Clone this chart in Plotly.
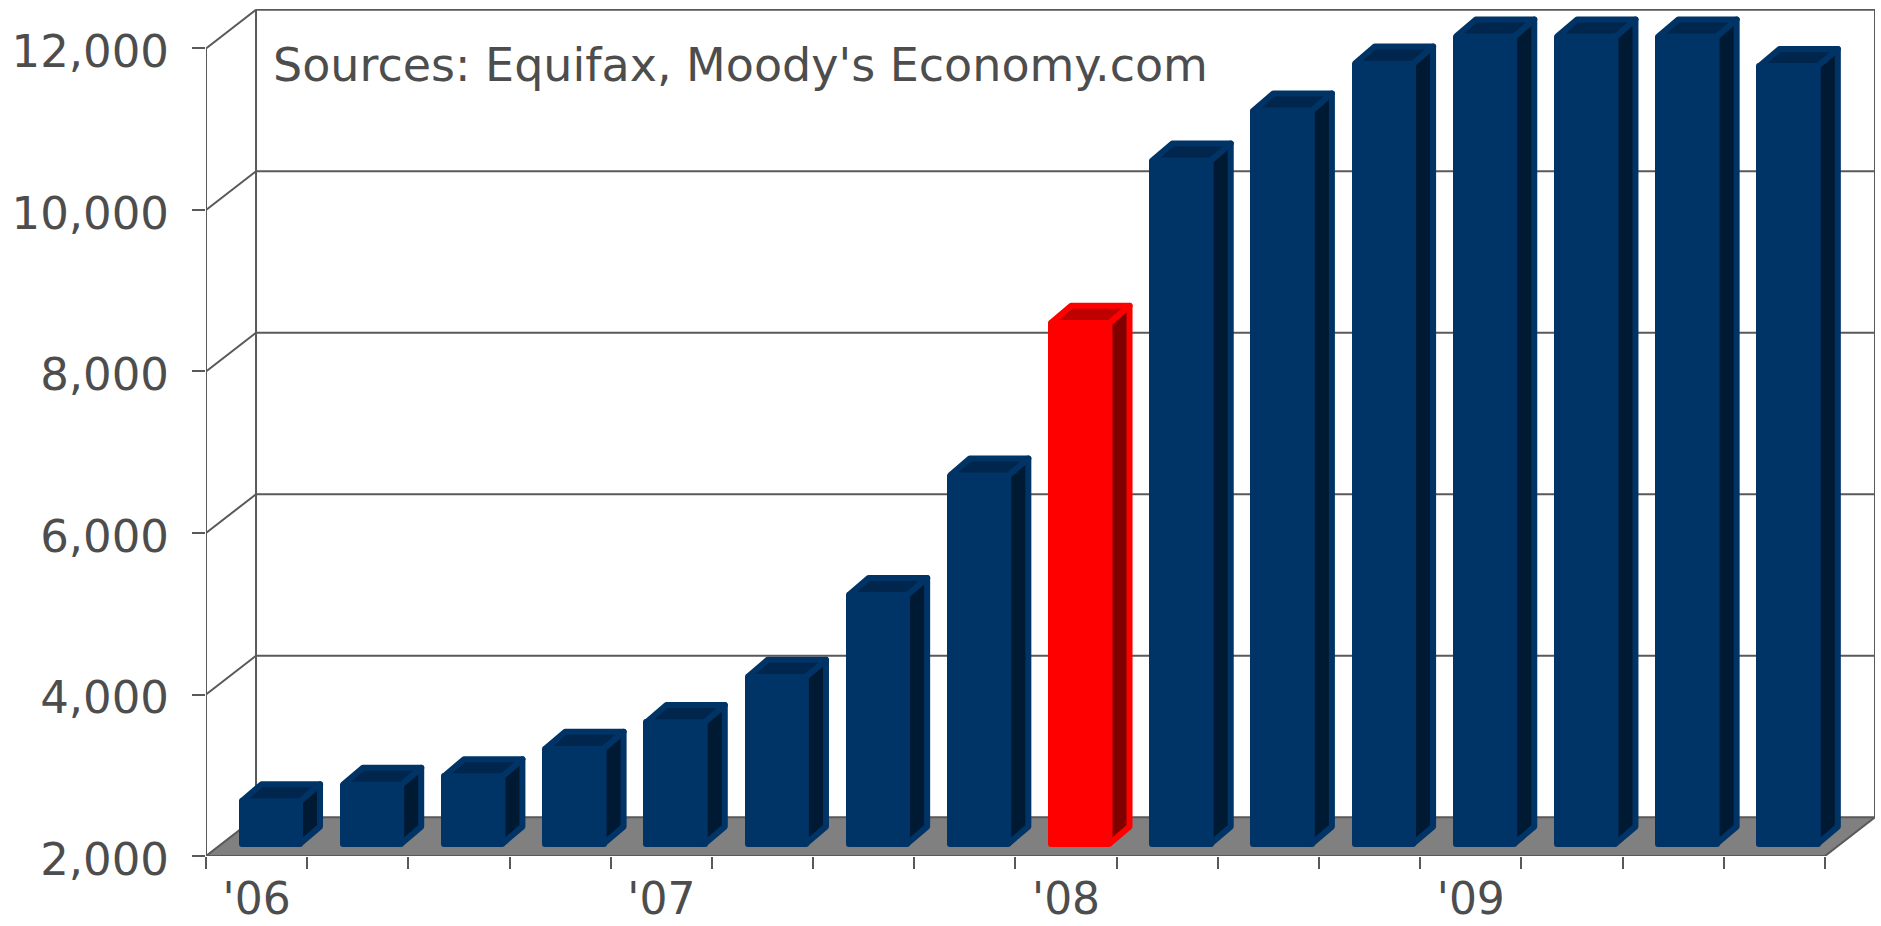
import plotly.graph_objects as go

# --- data ---
quarters = [f"Q{q} {y}" for y in (2006, 2007, 2008, 2009) for q in (1, 2, 3, 4)]
values = [2525, 2730, 2835, 3175, 3505, 4065, 5080, 6560, 8450, 10460, 11080, 11660, 11995, 11995, 11995, 11630]
highlight = [8]
year_labels = ["'06", "'07", "'08", "'09"]
year_positions = [0.5, 4.5, 8.5, 12.5]
y_ticks = [2000, 4000, 6000, 8000, 10000, 12000]
source_note = "Sources: Equifax, Moody's Economy.com"

# --- pseudo-3D projection, in axis units ---
WALL_DX, WALL_DY = 0.4943, 480      # depth of the floor / walls
BAR_LEFT, BAR_W = 0.352, 0.577      # bar position within its category
BAR_DX, BAR_DY = 0.198, 212         # depth of a bar
BAR_LIFT = 152                      # bars stand slightly back on the floor
YMIN, YMAX_FRONT, YMAX_PLOT = 2000, 12000, 12489
N = len(values)

AXIS = "#595959"
TEXT = "#4d4d4d"
FRONT, TOP, SIDE = "#003366", "#00264d", "#001a33"
RFRONT, RTOP, RSIDE = "#ff0000", "#bf0000", "#800000"
EDGE = 6

fig = go.Figure()

# walls, gridlines and floor
shapes = []
def seg(x0, y0, x1, y1):
    shapes.append(dict(type="line", xref="x", yref="y", x0=x0, y0=y0, x1=x1, y1=y1,
                       line=dict(color=AXIS, width=2), layer="below"))

for v in y_ticks[1:]:
    seg(0, v, WALL_DX, v + WALL_DY)
    seg(WALL_DX, v + WALL_DY, N + WALL_DX, v + WALL_DY)
seg(0, YMIN, 0, YMAX_FRONT)
seg(WALL_DX, YMIN + WALL_DY, WALL_DX, YMAX_FRONT + WALL_DY)
seg(N + WALL_DX, YMIN + WALL_DY, N + WALL_DX, YMAX_FRONT + WALL_DY)
shapes.append(dict(type="path", xref="x", yref="y", layer="below",
                   path=f"M 0 {YMIN} L {N} {YMIN} L {N + WALL_DX} {YMIN + WALL_DY} L {WALL_DX} {YMIN + WALL_DY} Z",
                   fillcolor="#808080", line=dict(color=AXIS, width=2)))

# front faces
fig.add_trace(go.Bar(
    x=[i + BAR_LEFT + BAR_W / 2 for i in range(N)],
    y=[v - YMIN for v in values],
    base=YMIN + BAR_LIFT,
    width=BAR_W,
    text=quarters,
    hoverinfo="text",
    textposition="none",
    marker=dict(color=[RFRONT if i in highlight else FRONT for i in range(N)],
                line=dict(color=[RFRONT if i in highlight else FRONT for i in range(N)], width=EDGE)),
    cliponaxis=False,
    showlegend=False,
))

# side and top faces
def poly(xs, ys, fill, edge):
    fig.add_trace(go.Scatter(x=xs, y=ys, mode="lines", fill="toself", fillcolor=fill,
                             line=dict(color=edge, width=EDGE), hoverinfo="skip",
                             showlegend=False, cliponaxis=False))

for i, v in enumerate(values):
    hot = i in highlight
    edge = RFRONT if hot else FRONT
    xl = i + BAR_LEFT
    xr = xl + BAR_W
    yb = YMIN + BAR_LIFT
    yt = v + BAR_LIFT
    poly([xr, xr + BAR_DX, xr + BAR_DX, xr, xr],
         [yb, yb + BAR_DY, yt + BAR_DY, yt, yb], RSIDE if hot else SIDE, edge)
    poly([xl, xr, xr + BAR_DX, xl + BAR_DX, xl],
         [yt, yt, yt + BAR_DY, yt + BAR_DY, yt], RTOP if hot else TOP, edge)

fig.add_annotation(x=0.64, y=11800, xref="x", yref="y", text=source_note, showarrow=False,
                   xanchor="left", yanchor="middle",
                   font=dict(family="DejaVu Sans", size=46, color=TEXT))

fig.update_layout(
    width=1881, height=926,
    margin=dict(l=205.7, r=6, t=9, b=70, pad=0),
    paper_bgcolor="white", plot_bgcolor="white",
    font=dict(family="DejaVu Sans", color=TEXT),
    shapes=shapes,
    bargap=0,
    xaxis=dict(
        range=[0, N + WALL_DX], showgrid=False, zeroline=False, showline=False, automargin=False,
        tickmode="array", tickvals=year_positions, ticktext=year_labels, ticks="",
        tickfont=dict(size=44, color=TEXT), ticklabelstandoff=13,
        minor=dict(tickmode="array", tickvals=list(range(N + 1)), ticks="outside",
                   ticklen=12, tickwidth=2, tickcolor=AXIS, showgrid=False),
    ),
    yaxis=dict(
        range=[YMIN, YMAX_PLOT], showgrid=False, zeroline=False, showline=False, automargin=False,
        tickmode="array", tickvals=y_ticks, tickformat=",", ticks="outside",
        ticklen=13, tickwidth=2, tickcolor=AXIS,
        tickfont=dict(size=45, color=TEXT), ticklabelstandoff=14, ticklabelshift=3,
    ),
)

fig.write_html("out.html", config={"displayModeBar": False},
               post_script="document.body.style.margin='0';document.body.style.overflow='hidden';"
                           "var s=document.createElement('style');"
                           "s.textContent='.js-line,.bars path{stroke-linejoin:round}';"
                           "document.head.appendChild(s);")
